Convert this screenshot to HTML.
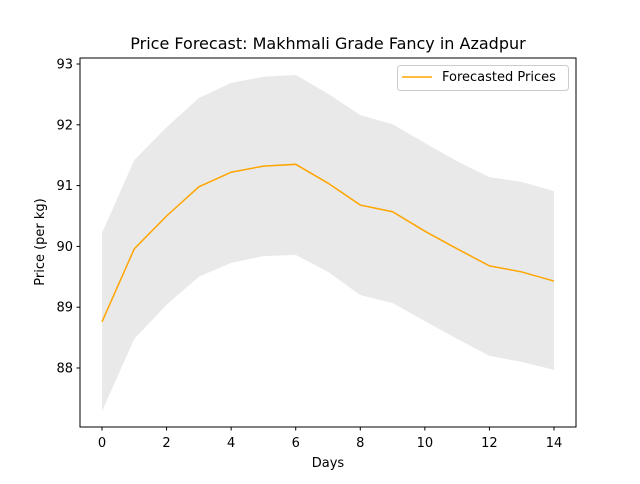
<!DOCTYPE html>
<html><head><meta charset="utf-8"><style>
body{margin:0;background:#fff;font-family:"DejaVu Sans","Liberation Sans",sans-serif;}
text{font-family:"DejaVu Sans","Liberation Sans",sans-serif;}
</style></head><body>
<svg id="chart" width="640" height="480" xmlns="http://www.w3.org/2000/svg">
<rect width="640" height="480" fill="#fff"/>
<text x="328" y="49" text-anchor="middle" font-size="16">Price Forecast: Makhmali Grade Fancy in Azadpur</text>
<g id="plot"></g>
<rect x="80" y="58" width="496" height="369" fill="none" stroke="#000" stroke-width="1"/>
<text x="328" y="467" text-anchor="middle" font-size="13">Days</text>
<text x="0" y="0" transform="translate(44,242) rotate(-90)" text-anchor="middle" font-size="13">Price (per kg)</text>
<g>
<rect x="397.5" y="65.5" width="171" height="25" rx="3" fill="#fff" stroke="#ccc"/>
<line x1="402" y1="77" x2="432" y2="77" stroke="orange" stroke-width="1.5"/>
<text x="442" y="81" font-size="13">Forecasted Prices</text>
</g>
</svg>
<script>
const days=[0,1,2,3,4,5,6,7,8,9,10,11,12,13,14];
const forecast=[88.76,89.96,90.5,90.98,91.22,91.32,91.35,91.04,90.68,90.57,90.25,89.96,89.68,89.58,89.43];
const upper=[90.22,91.42,91.96,92.44,92.69,92.79,92.82,92.51,92.16,92.01,91.70,91.40,91.14,91.06,90.91];
const lower=[87.29,88.48,89.04,89.5,89.73,89.84,89.86,89.58,89.2,89.07,88.77,88.48,88.2,88.1,87.97];
const xTicks=[0,2,4,6,8,10,12,14];
const yTicks=[88,89,90,91,92,93];
const NS="http://www.w3.org/2000/svg";
const xs=d=>102+d*(554-102)/14;
const ys=v=>64+(93-v)*(368-64)/5;
const g=document.getElementById('plot');
function mk(t,a){const e=document.createElementNS(NS,t);for(const k in a)e.setAttribute(k,a[k]);g.appendChild(e);return e;}
let pts=days.map((d,i)=>xs(d)+','+ys(upper[i]));
for(let i=days.length-1;i>=0;i--)pts.push(xs(days[i])+','+ys(lower[i]));
const band=mk('polygon',{points:pts.join(' '),fill:'#d3d3d3','fill-opacity':'0.5'});


const line=mk('polyline',{points:days.map((d,i)=>xs(d)+','+ys(forecast[i])).join(' '),fill:'none',stroke:'orange','stroke-width':'1.5'});


xTicks.forEach(t=>{
 const l=mk('line',{x1:xs(t),x2:xs(t),y1:427,y2:430.5,stroke:'#000'});
 
 
 const tx=mk('text',{x:xs(t),y:447,'text-anchor':'middle','font-size':'13'});tx.textContent=t;
 
 
});
yTicks.forEach(t=>{
 const l=mk('line',{x1:76.5,x2:80,y1:ys(t),y2:ys(t),stroke:'#000'});
 
 
 const tx=mk('text',{x:73,y:ys(t)+4.5,'text-anchor':'end','font-size':'13'});tx.textContent=t;
 
 
});
</script>
</body></html>
